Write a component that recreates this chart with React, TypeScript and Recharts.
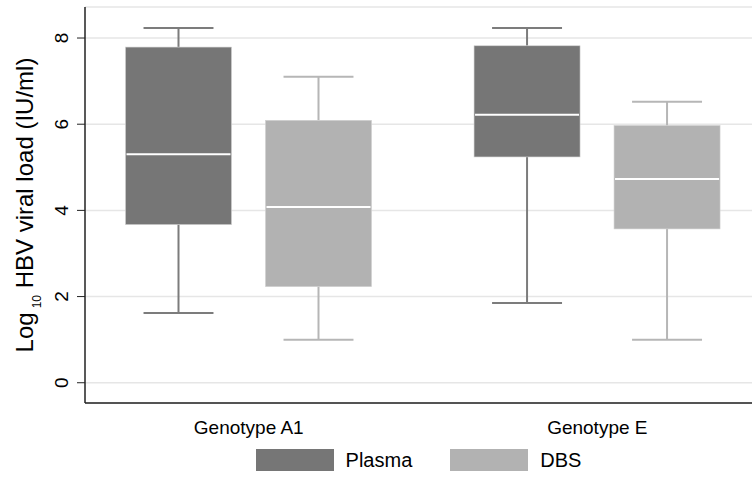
import { ComposedChart, Bar, XAxis, YAxis, CartesianGrid, Legend, Label } from "recharts"

// ─── Data ────────────────────────────────────────────────────────────────────

const GENOTYPES = ["Genotype A1", "Genotype E"]

const PLASMA_MIN = [1.62, 1.85]
const PLASMA_Q1 = [3.67, 5.24]
const PLASMA_MEDIAN = [5.3, 6.22]
const PLASMA_Q3 = [7.79, 7.82]
const PLASMA_MAX = [8.23, 8.23]

const DBS_MIN = [1.0, 1.0]
const DBS_Q1 = [2.23, 3.57]
const DBS_MEDIAN = [4.08, 4.73]
const DBS_Q3 = [6.09, 5.97]
const DBS_MAX = [7.1, 6.52]

const Y_TICKS = [0, 2, 4, 6, 8]

const SERIES = [
    { key: "plasma", name: "Plasma", fill: "#767676", whisker: "#7c7c7c" },
    { key: "dbs", name: "DBS", fill: "#b2b2b2", whisker: "#b6b6b6" },
]

const DATA = GENOTYPES.map((g, i) => ({
    genotype: g,
    plasmaBox: [PLASMA_Q1[i], PLASMA_Q3[i]],
    plasma: { min: PLASMA_MIN[i], q1: PLASMA_Q1[i], median: PLASMA_MEDIAN[i], q3: PLASMA_Q3[i], max: PLASMA_MAX[i] },
    dbsBox: [DBS_Q1[i], DBS_Q3[i]],
    dbs: { min: DBS_MIN[i], q1: DBS_Q1[i], median: DBS_MEDIAN[i], q3: DBS_Q3[i], max: DBS_MAX[i] },
}))

const FONT = "'Liberation Sans', Arial, Helvetica, sans-serif"

// ─── Shapes ──────────────────────────────────────────────────────────────────

function BoxShape(props: any) {
    const { x, y, width, height, stats, fill, whisker } = props
    const top = Math.min(y, y + height)
    const h = Math.abs(height)
    const ppu = h / (stats.q3 - stats.q1)
    const toY = (v: number) => top + (stats.q3 - v) * ppu
    const cx = x + width / 2
    const cap = width * 0.33
    return (
        <g>
            <line x1={cx} x2={cx} y1={toY(stats.max)} y2={toY(stats.q3)} stroke={whisker} strokeWidth={2} />
            <line x1={cx} x2={cx} y1={toY(stats.q1)} y2={toY(stats.min)} stroke={whisker} strokeWidth={2} />
            <line x1={cx - cap} x2={cx + cap} y1={toY(stats.max)} y2={toY(stats.max)} stroke={whisker} strokeWidth={2} />
            <line x1={cx - cap} x2={cx + cap} y1={toY(stats.min)} y2={toY(stats.min)} stroke={whisker} strokeWidth={2} />
            <rect x={x} y={top} width={width} height={h} fill={fill} stroke="#d0d0d0" strokeWidth={0.6} />
            <line x1={x + 1} x2={x + width - 1} y1={toY(stats.median)} y2={toY(stats.median)} stroke="#ffffff" strokeWidth={2} />
        </g>
    )
}

function YTick(props: any) {
    const { x, y, payload } = props
    return (
        <text x={x} y={y} transform={`rotate(-90 ${x} ${y})`} textAnchor="middle" fontSize={19} fontFamily={FONT} fill="#000">
            {payload.value}
        </text>
    )
}

function XTick(props: any) {
    const { x, y, payload } = props
    return (
        <text x={x} y={y + 31} textAnchor="middle" fontSize={19} fontFamily={FONT} fill="#000">
            {payload.value}
        </text>
    )
}

function YLabel(props: any) {
    const vb = props.viewBox || { x: 0, y: 7, width: 85, height: 396 }
    const lx = vb.x + 33
    const ly = vb.y + vb.height / 2
    return (
        <text x={lx} y={ly} transform={`rotate(-90 ${lx} ${ly})`} textAnchor="middle" fontSize={24} fontFamily={FONT} fill="#000">
            Log
            <tspan fontSize={12} dx={4} dy={8}>10</tspan>
            <tspan dy={-8}> HBV viral load (IU/ml)</tspan>
        </text>
    )
}

function BoxLegend() {
    return (
        <div style={{ display: "flex", justifyContent: "center", alignItems: "center", height: 40, fontFamily: FONT, fontSize: 20, color: "#000" }}>
            {SERIES.map((s, i) => (
                <div key={s.key} style={{ display: "flex", alignItems: "center", marginLeft: i ? 38 : 0 }}>
                    <span style={{ display: "inline-block", width: 78, height: 22, background: s.fill, marginRight: 12 }} />
                    <span>{s.name}</span>
                </div>
            ))}
        </div>
    )
}

// ─── Chart ───────────────────────────────────────────────────────────────────

export default function App() {
    return (
        <div style={{ position: "absolute", left: 0, top: 0, width: 752, height: 480, background: "#fff" }}>
            <ComposedChart width={752} height={480} data={DATA} margin={{ top: 7, right: 0, bottom: 0, left: 0 }} barGap={34}>
                <CartesianGrid vertical={false} stroke="#e6e6e6" strokeWidth={1.5} />
                <XAxis
                    dataKey="genotype"
                    height={37}
                    padding={{ left: -10.5, right: -19.6 }}
                    tickLine={false}
                    tickSize={0}
                    tickMargin={0}
                    tick={<XTick />}
                    axisLine={{ stroke: "#222", strokeWidth: 1.5 }}
                />
                <XAxis xAxisId="top" orientation="top" dataKey="genotype" height={0} tick={false} tickLine={false} axisLine={{ stroke: "#222", strokeWidth: 1.5 }} />
                <YAxis
                    type="number"
                    domain={[-0.47, 8.72]}
                    ticks={Y_TICKS}
                    allowDataOverflow
                    width={85}
                    tickSize={8}
                    tickMargin={9}
                    tick={<YTick />}
                    tickLine={{ stroke: "#222" }}
                    axisLine={{ stroke: "#222", strokeWidth: 1.5 }}
                >
                    <Label content={<YLabel />} />
                </YAxis>
                <Legend verticalAlign="bottom" height={40} content={<BoxLegend />} wrapperStyle={{ left: 85, width: 667, bottom: 0 }} />
                {SERIES.map((s) => (
                    <Bar
                        key={s.key}
                        dataKey={`${s.key}Box`}
                        name={s.name}
                        fill={s.fill}
                        barSize={106}
                        isAnimationActive={false}
                        shape={(p: any) => <BoxShape {...p} stats={p.payload[s.key]} fill={s.fill} whisker={s.whisker} />}
                    />
                ))}
            </ComposedChart>
        </div>
    )
}
